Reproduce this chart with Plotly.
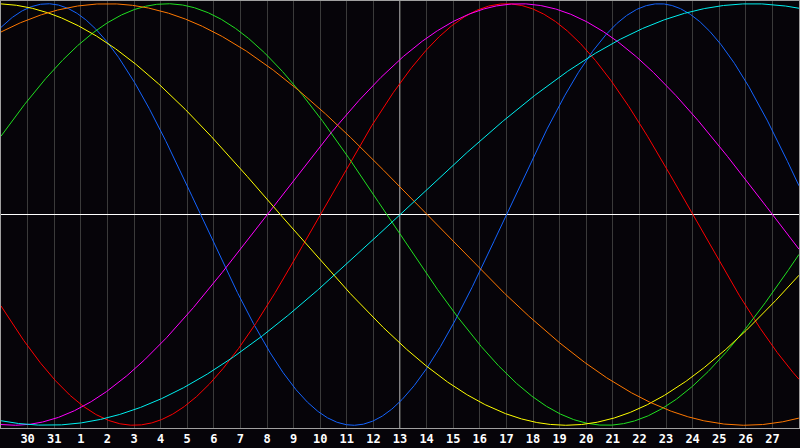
import numpy as np
import plotly.graph_objects as go

# Day labels along the bottom axis (one per grid line)
day_labels = ["30", "31", "1", "2", "3", "4", "5", "6", "7", "8", "9", "10", "11", "12",
              "13", "14", "15", "16", "17", "18", "19", "20", "21", "22", "23", "24",
              "25", "26", "27"]

# Biorhythm cycles
cycle_names = ["Physical", "Emotional", "Intellectual", "Intuitive",
               "Aesthetic", "Awareness", "Spiritual"]
cycle_periods = [23, 28, 33, 38, 43, 48, 53]
cycle_colors = ["#1464ff", "#ff0000", "#20e020", "#ff00ff",
                "#ffff00", "#ff7800", "#00f0f0"]
# days elapsed since birth at the left edge of the chart
days_since_birth_at_start = 42968
days_shown = 30
center_day_index = 15

bg = "#060409"

fig = go.Figure()
d = np.linspace(0, days_shown, 1601)
for name, per, col in zip(cycle_names, cycle_periods, cycle_colors):
    val = np.sin(2 * np.pi * (days_since_birth_at_start + d) / per)
    fig.add_trace(go.Scatter(x=d, y=val, mode="lines", name=name,
                             line=dict(color=col, width=1), hoverinfo="skip"))

fig.add_shape(type="line", xref="x", yref="paper", x0=center_day_index, x1=center_day_index,
              y0=0, y1=1, line=dict(color="#ffffff", width=1), layer="below")

fig.update_layout(
    width=800, height=448,
    margin=dict(l=1, r=1, t=1, b=20),
    paper_bgcolor=bg, plot_bgcolor=bg,
    showlegend=False,
    xaxis=dict(range=[0, days_shown], tickmode="array",
               tickvals=list(range(1, days_shown)), ticktext=day_labels,
               showgrid=True, gridcolor="#3a3a3a", gridwidth=1,
               zeroline=False, showline=True, linecolor="#a0a0a0", linewidth=1,
               mirror=True, ticks="", ticklen=0,
               tickfont=dict(family="DejaVu Sans Mono", size=12, color="#ffffff", weight="bold")),
    yaxis=dict(range=[-1.013, 1.013], showgrid=False, showticklabels=False,
               zeroline=True, zerolinecolor="#ffffff", zerolinewidth=1,
               showline=True, linecolor="#a0a0a0", linewidth=1, mirror=True, ticks=""),
)

fig.write_html("out.html", config={"displayModeBar": False},
               post_script="document.body.style.margin='0px';document.body.style.background='%s';" % bg)
